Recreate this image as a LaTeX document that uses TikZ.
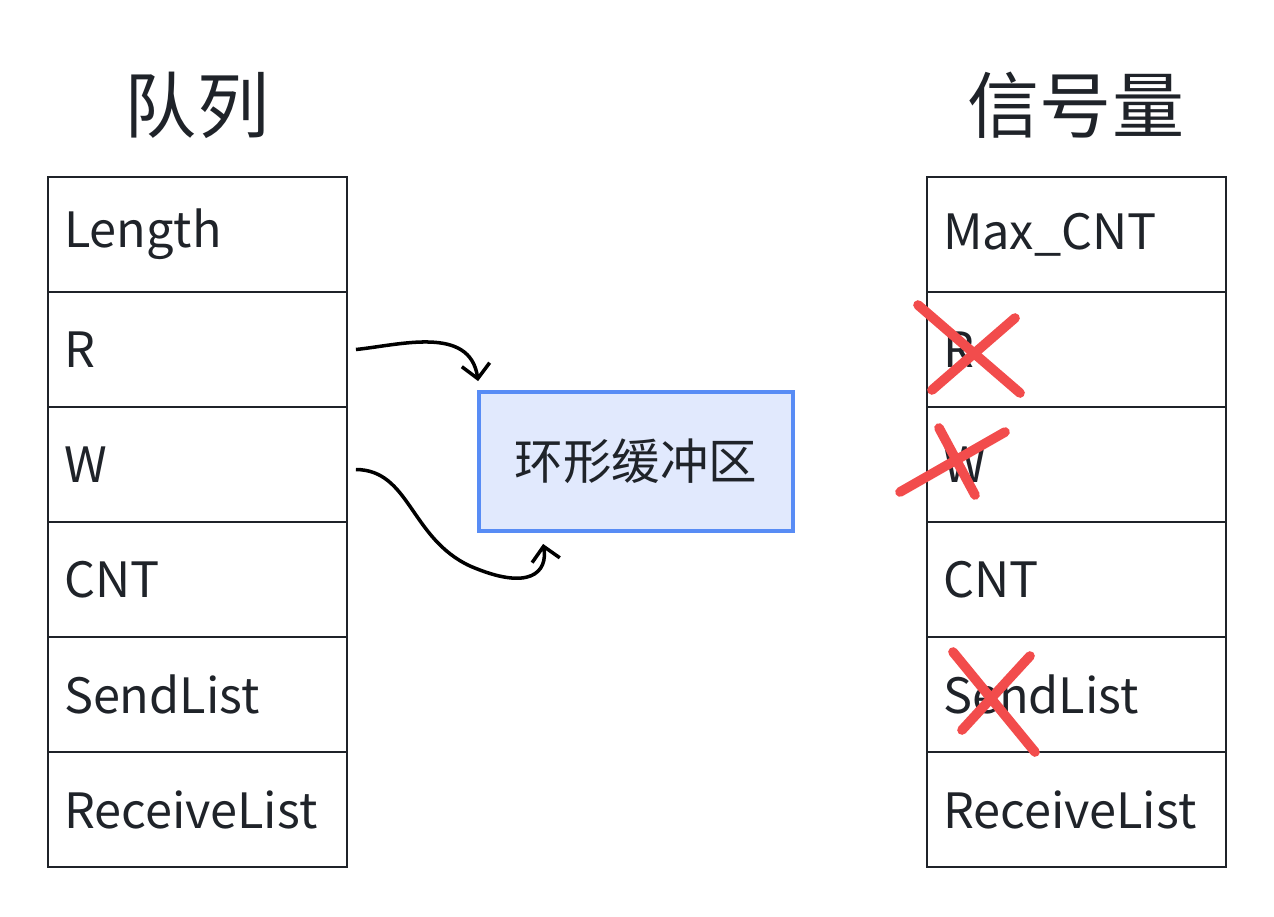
\documentclass[tikz,border=0pt]{standalone}
\usepackage{fontspec}
\setmainfont{Noto Sans CJK SC}
\usetikzlibrary{arrows.meta}

\definecolor{ink}{RGB}{31,35,41}
\definecolor{bufline}{RGB}{88,140,245}
\definecolor{buffill}{RGB}{225,233,253}
\definecolor{strikered}{RGB}{242,76,76}

\tikzset{
    cell/.style   = {draw=ink, line width=1.1pt, minimum width=5.98cm, minimum height=2.3cm,
                     text width=5.34cm, inner xsep=0.32cm, align=left, text=ink,
                     font=\fontsize{27.7}{27.7}\selectfont},
    title/.style  = {text=ink, font=\fontsize{41}{41}\selectfont},
    buffer/.style = {draw=bufline, fill=buffill, line width=2.2pt, minimum width=6.28cm,
                     minimum height=2.78cm, text=ink, font=\fontsize{27.6}{27.6}\selectfont},
    link/.style   = {line width=2pt, -{Straight Barb[length=8pt,width=16pt,line width=2pt]}},
    strike/.style = {draw=strikered, line width=5.5pt, line cap=round}
}

\begin{document}
\begin{tikzpicture}[x=0.02cm, y=-0.02cm]
        \useasboundingbox (0,0) rectangle (1274,916);

        % Titles
        \node[title] (qtitle) at (197,105)  {队列};
        \node[title] (stitle) at (1076,105) {信号量};

        % Queue
        \node[cell] (qlen)  at (197.5,234.5) {Length};
        \node[cell] (qr)    at (197.5,349.5) {R};
        \node[cell] (qw)    at (197.5,464.5) {W};
        \node[cell] (qcnt)  at (197.5,579.5) {CNT};
        \node[cell] (qsend) at (197.5,694.5) {SendList};
        \node[cell] (qrecv) at (197.5,809.5) {ReceiveList};

        % Semaphore
        \node[cell] (smax)  at (1076.5,234.5) {Max\_CNT};
        \node[cell] (sr)    at (1076.5,349.5) {R};
        \node[cell] (sw)    at (1076.5,464.5) {W};
        \node[cell] (scnt)  at (1076.5,579.5) {CNT};
        \node[cell] (ssend) at (1076.5,694.5) {SendList};
        \node[cell] (srecv) at (1076.5,809.5) {ReceiveList};

        % Ring buffer
        \node[buffer] (buf) at (636,461.5) {环形缓冲区};

        % Pointers
        \coordinate (rfrom) at ([shift={(8,0)}]qr.east);
        \coordinate (rto)   at ([shift={(1,-9)}]buf.north west);
        \coordinate (wfrom) at ([shift={(8,5)}]qw.east);
        \coordinate (wmid)  at (470,566);
        \coordinate (wto)   at ([shift={(66,11)}]buf.south west);
        \draw[link] (rfrom) .. controls (400,345) and (470,325) .. (rto);
        \draw[link] (wfrom) .. controls (410,470) and (410,538) .. (wmid)
                            .. controls (530,592) and (548,572) .. (wto);

        % Removed fields
        \draw[strike] (918,305) -- (1020,393);
        \draw[strike] (932,390) -- (1015,318);
        \draw[strike] (900,492) -- (1005,432);
        \draw[strike] (939,428) -- (975,495);
        \draw[strike] (953,652) -- (1035,752);
        \draw[strike] (962,730) -- (1030,656);
\end{tikzpicture}
\end{document}
